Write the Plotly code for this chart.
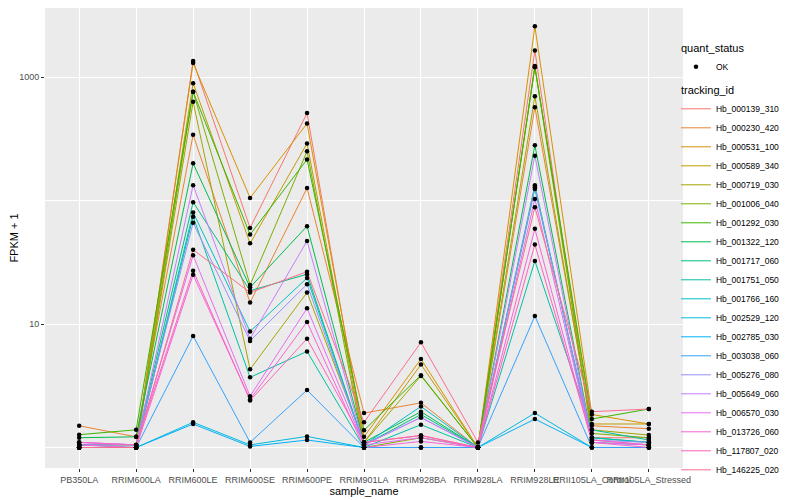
import plotly.graph_objects as go

samples = ["PB350LA", "RRIM600LA", "RRIM600LE", "RRIM600SE", "RRIM600PE",
           "RRIM901LA", "RRIM928BA", "RRIM928LA", "RRIM928LE",
           "RRII105LA_Control", "RRII105LA_Stressed"]

tracking_ids = ["Hb_000139_310", "Hb_000230_420", "Hb_000531_100", "Hb_000589_340",
                "Hb_000719_030", "Hb_001006_040", "Hb_001292_030", "Hb_001322_120",
                "Hb_001717_060", "Hb_001751_050", "Hb_001766_160", "Hb_002529_120",
                "Hb_002785_030", "Hb_003038_060", "Hb_005276_080", "Hb_005649_060",
                "Hb_006570_030", "Hb_013726_060", "Hb_117807_020", "Hb_146225_020"]

# FPKM + 1 per sample (order of `samples`)
hb_000139_310 = [1.0, 1.0, 1350, 60, 510, 1.1, 1.25, 1.0, 1640, 1.2, 1.2]
hb_000230_420 = [1.5, 1.22, 340, 14.9, 126, 1.9, 2.3, 1.0, 570, 1.5, 1.42]
hb_000531_100 = [1.0, 1.0, 1300, 105, 420, 1.22, 5.2, 1.0, 2570, 1.85, 1.55]
hb_000589_340 = [1.05, 1.05, 890, 45, 290, 1.1, 4.7, 1.0, 1230, 1.55, 1.55]
hb_000719_030 = [1.0, 1.0, 630, 4.3, 18, 1.1, 3.8, 1.0, 700, 1.39, 1.26]
hb_001006_040 = [1.0, 1.0, 760, 20.7, 250, 1.0, 1.2, 1.0, 1210, 1.3, 1.2]
hb_001292_030 = [1.27, 1.39, 760, 53, 215, 1.38, 3.85, 1.0, 1200, 1.7, 2.05]
hb_001322_120 = [1.2, 1.22, 200, 19.8, 62, 1.1, 1.95, 1.0, 280, 1.2, 1.1]
hb_001717_060 = [1.05, 1.05, 97, 18.6, 25.3, 1.05, 1.85, 1.0, 133, 1.1, 1.05]
hb_001751_050 = [1.0, 1.0, 74, 3.7, 6.0, 1.0, 1.53, 1.0, 32.4, 1.39, 1.15]
hb_001766_160 = [1.05, 1.0, 80, 8.7, 23.6, 1.05, 2.15, 1.0, 124, 1.2, 1.1]
hb_002529_120 = [1.0, 1.0, 1.6, 1.05, 1.23, 1.0, 1.0, 1.0, 1.9, 1.0, 1.0]
hb_002785_030 = [1.0, 1.0, 1.55, 1.02, 1.15, 1.0, 1.0, 1.0, 1.7, 1.0, 1.0]
hb_003038_060 = [1.0, 1.0, 8.0, 1.1, 2.92, 1.0, 1.0, 1.0, 11.6, 1.0, 1.0]
hb_005276_080 = [1.1, 1.05, 66, 7.3, 21, 1.05, 1.75, 1.0, 128, 1.15, 1.1]
hb_005649_060 = [1.05, 1.05, 133, 7.6, 47, 1.05, 1.75, 1.0, 230, 1.15, 1.05]
hb_006570_030 = [1.1, 1.05, 36, 2.6, 13.4, 1.05, 1.2, 1.0, 103, 1.1, 1.05]
hb_013726_060 = [1.05, 1.0, 25, 2.45, 10.4, 1.0, 1.12, 1.0, 59, 1.1, 1.0]
hb_117807_020 = [1.1, 1.05, 27, 2.4, 7.6, 1.1, 1.25, 1.0, 44, 1.15, 1.05]
hb_146225_020 = [1.0, 1.0, 40, 18, 26.5, 1.6, 7.1, 1.1, 88, 1.95, 2.05]

series = [hb_000139_310, hb_000230_420, hb_000531_100, hb_000589_340, hb_000719_030,
          hb_001006_040, hb_001292_030, hb_001322_120, hb_001717_060, hb_001751_050,
          hb_001766_160, hb_002529_120, hb_002785_030, hb_003038_060, hb_005276_080,
          hb_005649_060, hb_006570_030, hb_013726_060, hb_117807_020, hb_146225_020]

colors = ["#F8766D", "#EA8331", "#D89000", "#C09B00", "#A3A500", "#7CAE00", "#39B600",
          "#00BB4E", "#00BF7D", "#00C1A3", "#00BFC4", "#00BAE0", "#00B0F6", "#35A2FF",
          "#9590FF", "#C77CFF", "#E76BF3", "#FA62DB", "#FF62BC", "#FF6C91"]

FONT = "Liberation Sans, Arial, sans-serif"
fig = go.Figure()

for i, (tid, vals) in enumerate(zip(tracking_ids, series)):
    fig.add_trace(go.Scatter(
        x=samples, y=vals, mode="lines", name=tid,
        line=dict(color=colors[i], width=1),
        legendgroup="tracking", legendgrouptitle=dict(text="tracking_id",
                                                      font=dict(size=11, color="black")),
        legendrank=100 + i, hoverinfo="skip"))

px_, py_ = [], []
for vals in series:
    px_ += samples
    py_ += vals
fig.add_trace(go.Scatter(
    x=px_, y=py_, mode="markers", name="OK",
    marker=dict(color="black", size=4.5),
    legendgroup="quant", legendgrouptitle=dict(text="quant_status",
                                               font=dict(size=11, color="black")),
    legendrank=1))

# page body adds an 8px offset; size the figure so it fits the 800x500 window
fig.update_layout(
    width=792, height=492,
    margin=dict(l=37, r=117, t=0, b=32, autoexpand=False),
    paper_bgcolor="white", plot_bgcolor="#EBEBEB",
    font=dict(family=FONT, size=9, color="#4D4D4D"),
    legend=dict(x=0.989, xanchor="left", y=0.945, yanchor="top",
                traceorder="grouped", tracegroupgap=4, maxheight=480,
                font=dict(size=8.5, color="black"), bgcolor="rgba(0,0,0,0)"),
)
fig.update_xaxes(
    type="category", categoryorder="array", categoryarray=samples,
    range=[-0.6, 10.6], tickangle=0,
    showgrid=True, gridcolor="white", gridwidth=1.2,
    ticks="outside", ticklen=3, tickcolor="#333333",
    tickfont=dict(size=9, color="#4D4D4D"),
    title=dict(text="sample_name", font=dict(size=11, color="black"), standoff=2),
    zeroline=False, showline=False)
fig.update_yaxes(
    type="log", range=[-0.166, 3.5587],
    tickmode="array", tickvals=[10, 1000], ticktext=["10", "1000"],
    showgrid=True, gridcolor="white", gridwidth=1.2,
    minor=dict(tickmode="array", tickvals=[1, 100], showgrid=True,
               gridcolor="white", gridwidth=0.6, ticks=""),
    ticks="outside", ticklen=3, tickcolor="#333333",
    tickfont=dict(size=9, color="#4D4D4D"),
    title=dict(text="FPKM + 1", font=dict(size=11, color="black"), standoff=0),
    zeroline=False, showline=False)

fig.write_html("out.html")
